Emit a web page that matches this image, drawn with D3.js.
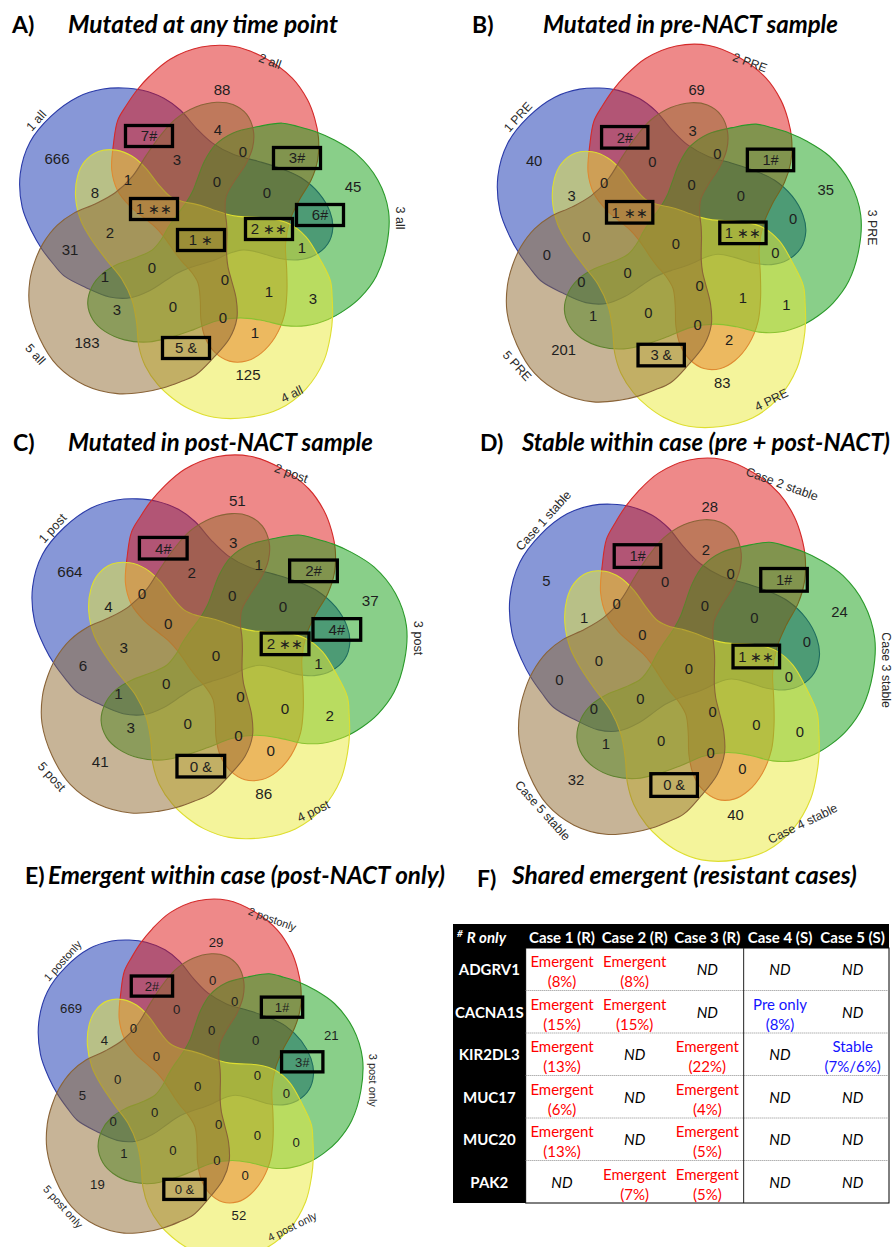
<!DOCTYPE html>
<html>
<head>
<meta charset="utf-8">
<script src="https://cdn.jsdelivr.net/npm/d3@7"></script>
<style>
  body { margin: 0; background: #fff; }
  svg { display: block; }
  .num { font-family: "Liberation Sans", Arial, sans-serif; fill: #1e1e1e; }
  .setlab { font-family: "Liberation Sans", Arial, sans-serif; fill: #2a2a2a; }
  .ptitle { font-family: Lato, "Open Sans", sans-serif; font-weight: 700; font-style: italic; fill: #000; }
  .pletter { font-family: Lato, "Open Sans", sans-serif; font-weight: 700; fill: #000; }
  .tbl { font-family: Lato, "Open Sans", sans-serif; font-size: 15px; }
</style>
</head>
<body>
<svg id="fig"></svg>
<script>
const W = 892, H = 1247;

// ---- data ----
const panelIds = ["A", "B", "C", "D", "E"];
const panelTitles = [
  "Mutated at any time point",
  "Mutated in pre-NACT sample",
  "Mutated in post-NACT sample",
  "Stable within case (pre + post-NACT)",
  "Emergent within case (post-NACT only)"
];
const setNames = [
  ["1 all", "2 all", "3 all", "4 all", "5 all"],
  ["1 PRE", "2 PRE", "3 PRE", "4 PRE", "5 PRE"],
  ["1 post", "2 post", "3 post", "4 post", "5 post"],
  ["Case 1 stable", "Case 2 stable", "Case 3 stable", "Case 4 stable", "Case 5 stable"],
  ["1 postonly", "2 postonly", "3 post only", "4 post only", "5 post only"]
];

// counts per region family, one value per set (1 blue, 2 red, 3 green, 4 yellow, 5 brown)
const onlyCounts = [[666, 88, 45, 125, 183], [40, 69, 35, 83, 201], [664, 51, 37, 86, 41], [5, 28, 24, 40, 32], [669, 29, 21, 52, 19]];
const pairA = [[7, 3, 3, 5, 31], [2, 1, 1, 3, 0], [4, 2, 2, 0, 6], [1, 1, 0, 0, 0], [2, 1, 0, 0, 5]];   // neighbouring heads
const pairB = [[8, 4, 6, 1, 3], [3, 3, 0, 2, 1], [4, 3, 4, 0, 3], [1, 2, 0, 0, 1], [4, 0, 3, 0, 1]];   // head crossed by a tail
const triA = [[1, 0, 1, 0, 1], [0, 0, 0, 0, 0], [0, 1, 1, 0, 1], [0, 0, 0, 0, 0], [0, 0, 0, 0, 0]];
const triB = [[2, 3, 0, 1, 0], [0, 0, 0, 1, 0], [3, 2, 0, 0, 0], [0, 0, 0, 0, 0], [0, 0, 0, 0, 0]];
const quad = [[1, 0, 2, 0, 0], [1, 0, 1, 0, 0], [0, 0, 2, 0, 0], [0, 0, 1, 0, 0], [0, 0, 0, 0, 0]];
const allFive = [1, 0, 0, 0, 0];

// boxed annotations
const pairAMark = [["#", "#", "", "&", ""], ["#", "#", "", "&", ""], ["#", "#", "", "&", ""], ["#", "#", "", "&", ""], ["#", "#", "", "&", ""]];
const pairBMark = [["", "", "#", "", ""], ["", "", "", "", ""], ["", "", "#", "", ""], ["", "", "", "", ""], ["", "", "#", "", ""]];
const quadMark = [["**", "", "**", "", ""], ["**", "", "**", "", ""], ["", "", "**", "", ""], ["", "", "**", "", ""], ["", "", "", "", ""]];
const allMark = ["*", "", "", "", ""];

// table F
const cases = ["Case 1 (R)", "Case 2 (R)", "Case 3 (R)", "Case 4 (S)", "Case 5 (S)"];
const genes = ["ADGRV1", "CACNA1S", "KIR2DL3", "MUC17", "MUC20", "PAK2"];
const status = [
  ["Emergent", "Emergent", "ND", "ND", "ND"],
  ["Emergent", "Emergent", "ND", "Pre only", "ND"],
  ["Emergent", "ND", "Emergent", "ND", "Stable"],
  ["Emergent", "ND", "Emergent", "ND", "ND"],
  ["Emergent", "ND", "Emergent", "ND", "ND"],
  ["ND", "Emergent", "Emergent", "ND", "ND"]
];
const vaf = [
  ["8%", "8%", "", "", ""],
  ["15%", "15%", "", "8%", ""],
  ["13%", "", "22%", "", "7%/6%"],
  ["6%", "", "4%", "", ""],
  ["13%", "", "5%", "", ""],
  ["", "7%", "5%", "", ""]
];

// ---- layout ----
const setFill = ["#1030b0", "#dd1414", "#14a014", "#eaea38", "#8f6a30"];
const setStroke = ["#2a3aa8", "#d42a2a", "#2a9a2a", "#dede30", "#8a6438"];
const headDir = [-151, -79, -7, 65, 137];
// one petal, [angle from its head direction, radius]
const shapeTpl = [
  [-46, 140], [-40, 148], [-34, 157], [-28, 166], [-20, 178], [-10, 188], [0, 192], [10, 189], [20, 183], [28, 174], [34, 165], [40, 155],
  [47, 141], [53, 126], [60, 107], [70, 93], [85, 88], [100, 95], [112, 106], [122, 118], [132, 128], [141, 134], [148, 135], [155, 130],
  [161, 118], [165, 103], [167, 85], [167, 65], [169, 48], [180, 37], [200, 31], [220, 29], [240, 30], [258, 35], [270, 44],
  [276, 55], [282, 74], [288, 92], [296, 108], [306, 124]
];
const centres = [[198, 235], [673, 239], [213, 650], [686, 663], [195, 1081]];
const scales = [[1, 1], [0.985, 1.027], [1.015, 1.028], [0.99, 1.08], [0.879, 0.959]];
const posOnly = [[-141, -76], [24, -145], [155, -48], [50, 140], [-111, 108]];
const posPairA = [[-49, -99], [99, -77], [115, 64], [-12, 113], [-128, 15]];
const posPairB = [[-103, -42], [20, -105], [122, -20], [57, 98], [-81, 75]];
const posTriA = [[-70, -55], [45, -83], [104, 13], [25, 83], [-93, 42]];
const posTriB = [[-88, -2], [-21, -75], [69, -42], [71, 57], [-25, 72]];
const posQuad = [[-44, -26], [19, -53], [71, -6], [27, 45], [-46, 33]];
const posAll = [3, 5];
const setLabelPos = [[-148, 200], [-71, 188], [-8, 204], [63, 184], [147, 203]];
const setLabelRot = [-48, 20, 90, -26, 48];
const letterPos = [[12, 33], [472, 33], [13, 451], [480, 451], [25, 884]];
const titleSpan = [[68, 338, 33], [543, 838, 33], [68, 373, 451], [522, 890, 451], [48, 445, 884]];

const svg = d3.select("#fig").attr("width", W).attr("height", H).attr("viewBox", `0 0 ${W} ${H}`);
svg.append("rect").attr("width", W).attr("height", H).attr("fill", "#fff");

function fitText(sel, size, target) {
  sel.attr("font-size", size);
  const w = sel.node().getComputedTextLength();
  sel.attr("font-size", size * target / w);
}

const rad = d => d * Math.PI / 180;
const polar = (deg, r) => [r * Math.cos(rad(deg)), r * Math.sin(rad(deg))];

panelIds.forEach((id, i) => {
  const [cx, cy] = centres[i], [sx, sy] = scales[i];
  const x = d3.scaleLinear().domain([0, 1]).range([cx, cx + sx]);
  const y = d3.scaleLinear().domain([0, 1]).range([cy, cy + sy]);
  const g = svg.append("g").attr("class", "venn-" + id);

  // title
  svg.append("text").attr("class", "pletter")
    .attr("x", letterPos[i][0]).attr("y", letterPos[i][1]).attr("font-size", 23).text(id + ")");
  const t = svg.append("text").attr("class", "ptitle")
    .attr("x", titleSpan[i][0]).attr("y", titleSpan[i][2]).text(panelTitles[i]);
  fitText(t, 21, titleSpan[i][1] - titleSpan[i][0]);

  const line = d3.line().x(d => x(d[0])).y(d => y(d[1])).curve(d3.curveCatmullRomClosed.alpha(0.5));
  headDir.forEach((h, k) => {
    g.append("path")
      .attr("d", line(shapeTpl.map(([phi, r]) => polar(h + phi, r))))
      .attr("fill", setFill[k]).attr("fill-opacity", 0.5)
      .attr("stroke", setStroke[k]).attr("stroke-width", 1.1);
  });

  // set names along the rims
  setNames[i].forEach((name, k) => {
    const [a, r] = setLabelPos[k];
    const [dx, dy] = polar(a, r);
    g.append("text").attr("class", "setlab")
      .attr("font-size", 12.5 * sx)
      .attr("dy", "0.35em")
      .attr("transform", `translate(${x(dx)},${y(dy)}) rotate(${setLabelRot[k]})`)
      .text(name);
  });

  // region values
  const regions = [];
  for (let k = 0; k < 5; k++) {
    regions.push({ v: onlyCounts[i][k], m: "", p: posOnly[k] });
    regions.push({ v: pairA[i][k], m: pairAMark[i][k], p: posPairA[k] });
    regions.push({ v: pairB[i][k], m: pairBMark[i][k], p: posPairB[k] });
    regions.push({ v: triA[i][k], m: "", p: posTriA[k] });
    regions.push({ v: triB[i][k], m: "", p: posTriB[k] });
    regions.push({ v: quad[i][k], m: quadMark[i][k], p: posQuad[k] });
  }
  regions.push({ v: allFive[i], m: allMark[i], p: posAll });

  const fs = 15 * sx;
  regions.forEach(d => {
    const px = x(d.p[0]), py = y(d.p[1]);
    const txt = g.append("text").attr("class", "num")
      .attr("x", px).attr("y", py).attr("dy", "0.36em")
      .attr("text-anchor", "middle").attr("font-size", fs);
    txt.append("tspan").text(d.v);
    if (d.m) {
      txt.append("tspan").attr("font-size", fs * 0.95)
        .text(d.m === "#" ? "#" : d.m === "&" ? " &" : " " + d.m.replace(/\*/g, "\u2217"));
      g.append("rect")
        .attr("x", px - 23.5 * sx).attr("y", py - 10.5 * sy)
        .attr("width", 47 * sx).attr("height", 21 * sy)
        .attr("fill", "none").attr("stroke", "#000").attr("stroke-width", 3.3);
    }
  });
});

// ---- panel F table ----
svg.append("text").attr("class", "pletter").attr("x", 477).attr("y", 887).attr("font-size", 23).text("F)");
const tF = svg.append("text").attr("class", "ptitle").attr("x", 512).attr("y", 884).text("Shared emergent (resistant cases)");
fitText(tF, 21, 345);

const tbl = svg.append("g").attr("class", "tbl");
const colX = d3.scaleBand().domain(["gene", ...cases]).range([453, 889]);
const rowY = d3.scaleBand().domain(genes).range([948, 1203]);
const headTop = 924;

tbl.append("rect").attr("x", 453).attr("y", headTop).attr("width", 436).attr("height", 948 - headTop).attr("fill", "#000");
tbl.append("rect").attr("x", 453).attr("y", 948).attr("width", colX.bandwidth()).attr("height", 255).attr("fill", "#000");
tbl.append("rect").attr("x", colX(cases[0])).attr("y", 948)
  .attr("width", 889 - colX(cases[0])).attr("height", 255)
  .attr("fill", "none").attr("stroke", "#000").attr("stroke-width", 1);
genes.slice(1).forEach(gn => {
  tbl.append("line").attr("x1", colX(cases[0])).attr("x2", 889)
    .attr("y1", rowY(gn)).attr("y2", rowY(gn))
    .attr("stroke", "#8a8a8a").attr("stroke-width", 1).attr("stroke-dasharray", "1,1");
});
tbl.append("line").attr("x1", colX(cases[3])).attr("x2", colX(cases[3]))
  .attr("y1", 948).attr("y2", 1203).attr("stroke", "#222").attr("stroke-width", 1);

// header
const hdr = tbl.append("text").attr("x", 457).attr("y", 943).attr("fill", "#fff")
  .attr("font-weight", 700).attr("font-style", "italic");
hdr.append("tspan").attr("font-size", 10).attr("dy", -6).text("#");
hdr.append("tspan").attr("dy", 6).attr("dx", 4).text("R only");
cases.forEach(c => {
  tbl.append("text").attr("x", colX(c) + colX.bandwidth() / 2).attr("y", 943)
    .attr("text-anchor", "middle").attr("fill", "#fff").attr("font-weight", 700).text(c);
});

const statusColor = s => s === "Emergent" ? "#ff0000" : s === "ND" ? "#000" : "#1414ff";
genes.forEach((gn, r) => {
  const top = rowY(gn);
  tbl.append("text").attr("x", 453 + colX.bandwidth() / 2).attr("y", top + 27)
    .attr("text-anchor", "middle").attr("fill", "#fff").attr("font-weight", 700).text(gn);
  cases.forEach((c, j) => {
    const s = status[r][j], cxm = colX(c) + colX.bandwidth() / 2;
    if (s === "ND") {
      tbl.append("text").attr("x", cxm).attr("y", top + 27).attr("text-anchor", "middle")
        .attr("font-style", "italic").attr("fill", "#000").text("ND");
    } else {
      tbl.append("text").attr("x", cxm).attr("y", top + 19).attr("text-anchor", "middle")
        .attr("fill", statusColor(s)).text(s);
      tbl.append("text").attr("x", cxm).attr("y", top + 39).attr("text-anchor", "middle")
        .attr("fill", statusColor(s)).text("(" + vaf[r][j] + ")");
    }
  });
});
</script>
</body>
</html>
